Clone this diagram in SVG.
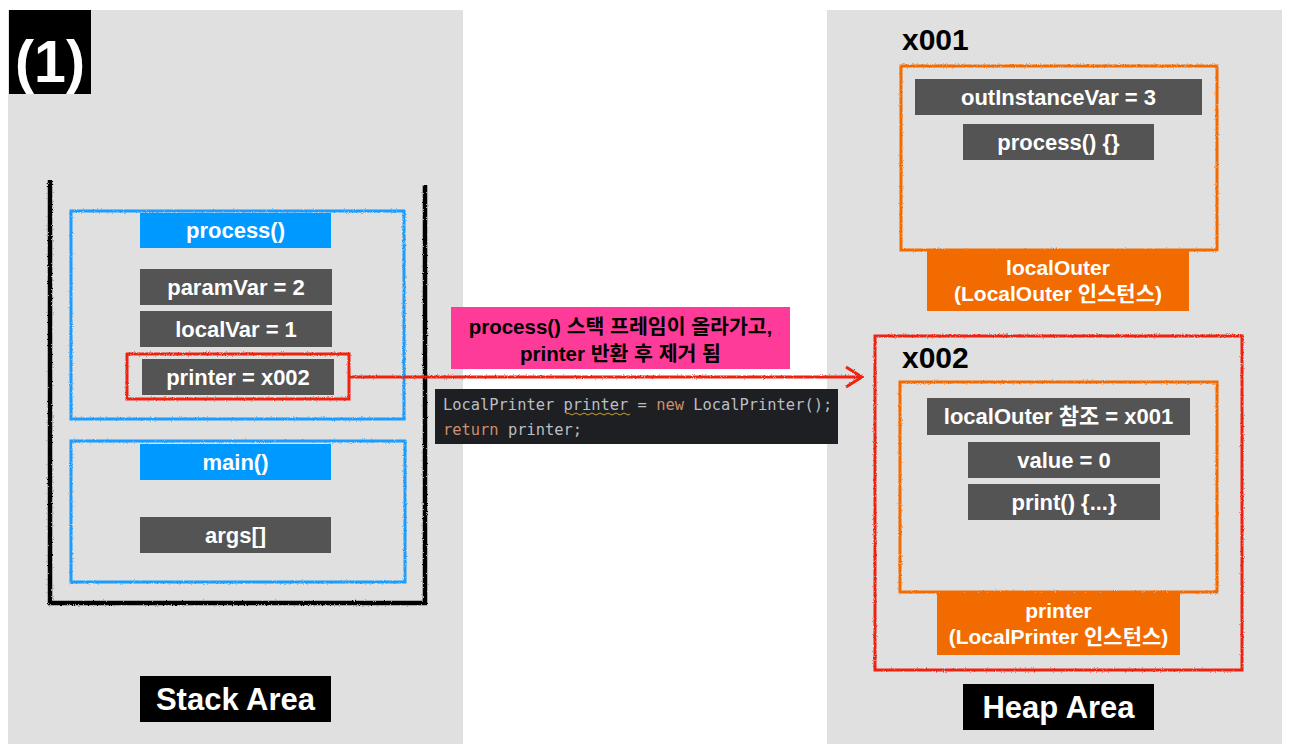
<svg xmlns="http://www.w3.org/2000/svg" width="1292" height="754" viewBox="0 0 1292 754">
<defs>
<filter id="rough" x="-5%" y="-5%" width="110%" height="110%">
<feTurbulence type="fractalNoise" baseFrequency="0.9" numOctaves="2" seed="3" result="n"/>
<feDisplacementMap in="SourceGraphic" in2="n" scale="2.5" xChannelSelector="R" yChannelSelector="G"/>
</filter>
<filter id="roughLine" filterUnits="userSpaceOnUse" x="340" y="355" width="540" height="45">
<feTurbulence type="fractalNoise" baseFrequency="0.9" numOctaves="2" seed="5" result="n"/>
<feDisplacementMap in="SourceGraphic" in2="n" scale="2.5" xChannelSelector="R" yChannelSelector="G"/>
</filter>
<marker id="head" viewBox="0 0 20 24" refX="18" refY="12" markerWidth="20" markerHeight="24" markerUnits="userSpaceOnUse" orient="auto">
<path d="M2 2 L18 12 L2 22" fill="none" stroke="#ee2211" stroke-width="3"/>
</marker>
</defs>
<style>
.panel{fill:#e0e0e0}
.var{fill:#545454}
.hdr{fill:#0099ff}
.lbl{fill:#f26b00}
.t{font-family:"Liberation Sans","Noto Sans CJK KR",sans-serif;font-weight:bold;fill:#fff;text-anchor:middle}
.blue{fill:none;stroke:#1a9cff;stroke-width:3}
.orange{fill:none;stroke:#f26b00;stroke-width:3}
.red{fill:none;stroke:#ee2211;stroke-width:3}
.code{font-family:"DejaVu Sans Mono","Liberation Mono",monospace;font-size:15.4px;fill:#bcbec4}
.kw{fill:#cf8e6d}
</style>
<rect width="1292" height="754" fill="#fff"/>
<rect class="panel" x="8" y="10" width="455" height="734"/>
<rect class="panel" x="827" y="10" width="455" height="734"/>

<g id="label1">
<rect x="9" y="10" width="82" height="84" fill="#000"/>
<text class="t" x="50" y="82" font-size="60" textLength="70" lengthAdjust="spacingAndGlyphs">(1)</text>
</g>

<g id="stack" filter="url(#rough)">
<path d="M50 180 L50 603 L425 603 L425 185" fill="none" stroke="#000" stroke-width="4.5"/>
</g>

<g id="processFrame">
<rect class="blue" x="71" y="211" width="333" height="208" filter="url(#rough)"/>
<rect class="hdr" x="140" y="213" width="191" height="35"/>
<text class="t" x="235.5" y="238" font-size="22">process()</text>
</g>
<g id="paramVar">
<rect class="var" x="140" y="269" width="192" height="36"/>
<text class="t" x="236" y="295" font-size="22">paramVar = 2</text>
</g>
<g id="localVar">
<rect class="var" x="140" y="311" width="192" height="36"/>
<text class="t" x="236" y="337" font-size="22">localVar = 1</text>
</g>
<g id="printerVar">
<rect class="var" x="142" y="359" width="192" height="36"/>
<text class="t" x="238" y="385" font-size="22">printer = x002</text>
<rect class="red" x="127" y="354" width="222" height="45" filter="url(#rough)"/>
</g>

<g id="mainFrame">
<rect class="blue" x="71" y="441" width="334" height="141" filter="url(#rough)"/>
<rect class="hdr" x="140" y="444" width="191" height="36"/>
<text class="t" x="235.5" y="470" font-size="22">main()</text>
</g>
<g id="args">
<rect class="var" x="140" y="517" width="191" height="36"/>
<text class="t" x="235.5" y="543" font-size="22">args[]</text>
</g>

<g id="stackArea">
<rect x="140" y="676" width="191" height="46" fill="#000"/>
<text class="t" x="235.5" y="710" font-size="31">Stack Area</text>
</g>

<g id="connectors" filter="url(#roughLine)">
<path d="M349 377 L862 377" class="red" marker-end="url(#head)"/>
</g>

<g id="note">
<rect x="451" y="307" width="339" height="62" fill="#ff3b9a"/>
<text class="t" x="620.5" y="334" font-size="20.5" style="fill:#000">process() 스택 프레임이 올라가고,</text>
<text class="t" x="620.5" y="361" font-size="20.5" style="fill:#000">printer 반환 후 제거 됨</text>
</g>

<g id="code">
<rect x="435" y="389" width="403" height="55" fill="#1e1f22"/>
<text class="code" x="443" y="410">LocalPrinter printer = <tspan class="kw">new</tspan> LocalPrinter();</text>
<text class="code" x="443" y="435"><tspan class="kw">return</tspan> printer;</text>
<path d="M566 414 q2 -2 4 0 t4 0 t4 0 t4 0 t4 0 t4 0 t4 0 t4 0 t4 0 t4 0 t4 0 t4 0 t4 0 t4 0 t4 0 t4 0" fill="none" stroke="#c9a22a" stroke-width="1"/>
</g>

<g id="x001">
<text x="902" y="50" font-family="Liberation Sans, sans-serif" font-weight="bold" font-size="30" fill="#000">x001</text>
<rect class="orange" x="901" y="66" width="316" height="184" filter="url(#rough)"/>
<rect class="var" x="915" y="79" width="287" height="36"/>
<text class="t" x="1058.5" y="105" font-size="22">outInstanceVar = 3</text>
<rect class="var" x="963" y="124" width="191" height="36"/>
<text class="t" x="1058.5" y="150" font-size="22">process() {}</text>
<rect class="lbl" x="927" y="250" width="262" height="61"/>
<text class="t" x="1058" y="275" font-size="21">localOuter</text>
<text class="t" x="1058" y="301" font-size="21">(LocalOuter 인스턴스)</text>
</g>

<g id="x002">
<rect class="red" x="875" y="336" width="367" height="334" filter="url(#rough)"/>
<text x="902" y="368" font-family="Liberation Sans, sans-serif" font-weight="bold" font-size="30" fill="#000">x002</text>
<rect class="orange" x="900" y="382" width="317" height="210" filter="url(#rough)"/>
<rect class="var" x="927" y="398" width="263" height="37"/>
<text class="t" x="1058.5" y="424" font-size="22">localOuter 참조 = x001</text>
<rect class="var" x="968" y="442" width="192" height="36"/>
<text class="t" x="1064" y="468" font-size="22">value = 0</text>
<rect class="var" x="968" y="484" width="192" height="36"/>
<text class="t" x="1064" y="510" font-size="22">print() {...}</text>
<rect class="lbl" x="937" y="593" width="243" height="62"/>
<text class="t" x="1058.5" y="618" font-size="21">printer</text>
<text class="t" x="1058.5" y="644" font-size="21">(LocalPrinter 인스턴스)</text>
</g>

<g id="heapArea">
<rect x="963" y="684" width="191" height="46" fill="#000"/>
<text class="t" x="1058.5" y="718" font-size="31">Heap Area</text>
</g>
</svg>
